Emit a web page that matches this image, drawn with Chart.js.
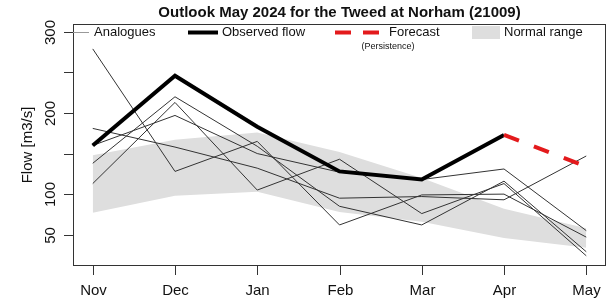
<!DOCTYPE html>
<html>
<head>
<meta charset="utf-8">
<script src="https://cdn.jsdelivr.net/npm/chart.js@4"></script>
<style>
  html, body { margin: 0; padding: 0; background: #fff; }
  canvas { display: block; }
</style>
</head>
<body>
<canvas id="chart" width="607" height="301"></canvas>
<script>
// months on the x axis (Nov 2023 .. May 2024)
const months = ['Nov', 'Dec', 'Jan', 'Feb', 'Mar', 'Apr', 'May'];

// flows in m3/s
const observed = [160, 246, 183, 128, 118, 173, null];
const forecast = [null, null, null, null, null, 173, 134];
const analogueA = [279, 128, 165, 62, 99, 100, 47];
const analogueB = [181, 158, 132, 95, 97, 93, 147];
const analogueC = [138, 220, 159, 85, 62, 116, 29];
const analogueD = [113, 213, 105, 143, 76, 113, 24];
const analogueE = [160, 197, 150, 127, 118, 131, 55];
const normalUpper = [148, 167, 176, 152, 120, 82, 58];
const normalLower = [77, 98, 103, 78, 66, 46, 34];

const yTicks = [50, 100, 150, 200, 250, 300];
const yTickLabels = ['50', '100', '', '200', '', '300'];

const FONT = '"Liberation Sans", Arial, sans-serif';

const pts = arr => arr.map((v, i) => ({ x: i, y: v })).filter(p => p.y != null);

const analogue = (arr) => ({
  data: pts(arr), borderColor: '#333', borderWidth: 1, pointRadius: 0, tension: 0, fill: false, order: 5
});

const axesPlugin = {
  id: 'rAxes',
  afterDraw(chart) {
    const ctx = chart.ctx, ca = chart.chartArea;
    const xs = chart.scales.x, ys = chart.scales.y;
    ctx.save();
    ctx.strokeStyle = '#333'; ctx.lineWidth = 1;
    ctx.strokeRect(ca.left + 0.5, ca.top + 0.5, ca.right - ca.left - 1, ca.bottom - ca.top - 1);

    ctx.fillStyle = '#111';
    ctx.font = '15px ' + FONT;
    ctx.textAlign = 'center'; ctx.textBaseline = 'middle';
    months.forEach((m, i) => {
      const px = Math.round(xs.getPixelForValue(i)) + 0.5;
      ctx.beginPath(); ctx.moveTo(px, ca.bottom); ctx.lineTo(px, ca.bottom + 9); ctx.stroke();
      ctx.fillText(m, px, ca.bottom + 25);
    });

    yTicks.forEach((v, i) => {
      const py = Math.round(ys.getPixelForValue(v)) + 0.5;
      ctx.beginPath(); ctx.moveTo(ca.left - 9, py); ctx.lineTo(ca.left, py); ctx.stroke();
      if (!yTickLabels[i]) return;
      ctx.save();
      ctx.translate(ca.left - 22, py);
      ctx.rotate(-Math.PI / 2);
      ctx.fillText(yTickLabels[i], 0, 0);
      ctx.restore();
    });

    ctx.save();
    ctx.translate(28, (ca.top + ca.bottom) / 2);
    ctx.rotate(-Math.PI / 2);
    ctx.fillText('Flow [m3/s]', 0, 0);
    ctx.restore();

    ctx.font = 'bold 15px ' + FONT;
    ctx.fillText('Outlook May 2024 for the Tweed at Norham (21009)', (ca.left + ca.right) / 2, 13);

    // legend along the top of the plot
    const ly = ca.top + 8.5;
    ctx.font = '13px ' + FONT;
    ctx.textAlign = 'left';
    ctx.strokeStyle = '#999'; ctx.lineWidth = 1;
    ctx.beginPath(); ctx.moveTo(ca.left, ly); ctx.lineTo(ca.left + 16, ly); ctx.stroke();
    ctx.fillText('Analogues', ca.left + 21, ly);

    ctx.strokeStyle = '#000'; ctx.lineWidth = 4;
    ctx.beginPath(); ctx.moveTo(188, ly); ctx.lineTo(218, ly); ctx.stroke();
    ctx.fillText('Observed flow', 222, ly);

    ctx.strokeStyle = '#e31a1c'; ctx.lineWidth = 4;
    ctx.setLineDash([16, 12]);
    ctx.beginPath(); ctx.moveTo(335, ly); ctx.lineTo(386, ly); ctx.stroke();
    ctx.setLineDash([]);
    ctx.fillText('Forecast', 389, ly);
    ctx.font = '9px ' + FONT;
    ctx.textAlign = 'center';
    ctx.fillText('(Persistence)', 388, ly + 14);

    ctx.fillStyle = '#dedede';
    ctx.fillRect(472, ca.top + 2, 28, 13);
    ctx.fillStyle = '#111';
    ctx.font = '13px ' + FONT;
    ctx.textAlign = 'left';
    ctx.fillText('Normal range', 504, ly);
    ctx.restore();
  }
};

new Chart(document.getElementById('chart'), {
  type: 'line',
  data: {
    datasets: [
      { data: pts(normalLower), borderWidth: 0, pointRadius: 0, tension: 0, fill: false, order: 10 },
      { data: pts(normalUpper), borderWidth: 0, pointRadius: 0, tension: 0, fill: '-1', backgroundColor: '#dedede', order: 10 },
      analogue(analogueA), analogue(analogueB), analogue(analogueC), analogue(analogueD), analogue(analogueE),
      { data: pts(observed), borderColor: '#000', borderWidth: 4, pointRadius: 0, tension: 0, fill: false, order: 2, borderJoinStyle: 'miter' },
      { data: pts(forecast), borderColor: '#e31a1c', borderWidth: 4, borderDash: [16, 16], pointRadius: 0, tension: 0, fill: false, order: 1 }
    ]
  },
  options: {
    responsive: false,
    animation: false,
    devicePixelRatio: 1,
    layout: { padding: { left: 73, right: 1, top: 24, bottom: 35 } },
    plugins: { legend: { display: false }, tooltip: { enabled: false }, title: { display: false } },
    scales: {
      x: { type: 'linear', min: -0.24, max: 6.24, display: false },
      y: { type: 'linear', min: 11.4, max: 309.7, display: false }
    }
  },
  plugins: [axesPlugin]
});
</script>
</body>
</html>
